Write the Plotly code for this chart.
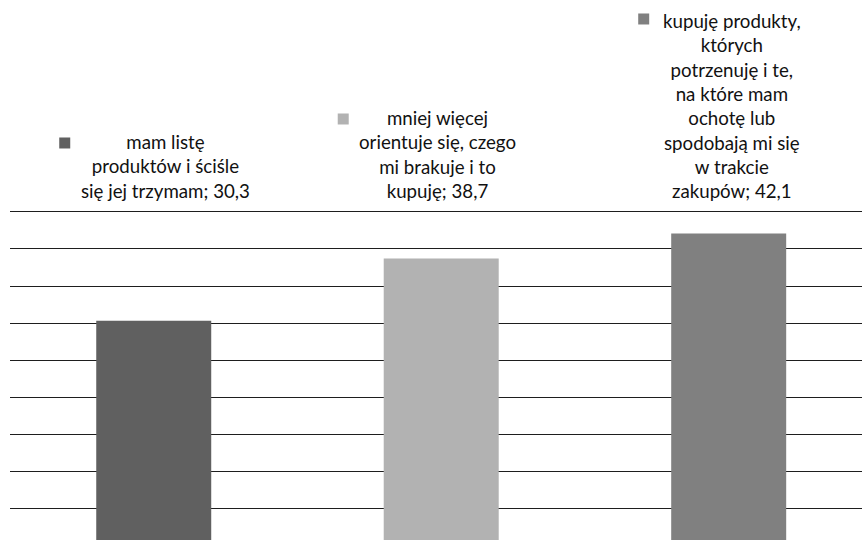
import plotly.graph_objects as go

# Survey answers: how respondents shop (percent)
categories = [
    "mam listę produktów i ściśle się jej trzymam",
    "mniej więcej orientuje się, czego mi brakuje i to kupuję",
    "kupuję produkty, których potrzenuję i te, na które mam ochotę lub spodobają mi się w trakcie zakupów",
]
values = [30.3, 38.7, 42.1]
label_lines = [
    ["mam listę", "produktów i ściśle", "się jej trzymam; 30,3"],
    ["mniej więcej", "orientuje się, czego", "mi brakuje i to", "kupuję; 38,7"],
    ["kupuję produkty,", "których", "potrzenuję i te,", "na które mam",
     "ochotę lub", "spodobają mi się", "w trakcie", "zakupów; 42,1"],
]
colors = ["#606060", "#b2b2b2", "#808080"]

# Label placement (pixel offsets from bar centre / top gridline)
text_dx = [12, -4, 3]
key_dx = [-89, -98, -85]
key_dy = [69, 93, 193]
KEY = 11

FONT = "Lato, 'Open Sans', sans-serif"
y_top = 45
y_range = [0.68, 46.62]

fig = go.Figure()
x_idx = list(range(len(categories)))
fig.add_trace(go.Bar(
    x=x_idx, y=values, marker=dict(color=colors, line=dict(width=0)),
    width=0.4, showlegend=False, hoverinfo="skip",
))

# paper coordinate of the top gridline, so the keys are not clipped
top_paper = (y_top - y_range[0]) / (y_range[1] - y_range[0])

for i, lines in enumerate(label_lines):
    fig.add_annotation(
        x=x_idx[i], y=y_top, xref="x", yref="y",
        text="<br>".join(lines), showarrow=False,
        xanchor="center", yanchor="bottom",
        xshift=text_dx[i], yshift=8,
        font=dict(family=FONT, size=18.7, color="#111111"),
        align="center",
    )
    fig.add_shape(
        type="rect", xref="x", yref="paper",
        xsizemode="pixel", ysizemode="pixel",
        xanchor=x_idx[i], yanchor=top_paper,
        x0=key_dx[i] - KEY / 2, x1=key_dx[i] + KEY / 2,
        y0=key_dy[i] - KEY / 2, y1=key_dy[i] + KEY / 2,
        fillcolor=colors[i], line=dict(width=0),
    )

fig.update_layout(
    width=862, height=540,
    margin=dict(l=10, r=0, t=200, b=0),
    paper_bgcolor="white", plot_bgcolor="white",
    bargap=0.6,
    xaxis=dict(range=[-0.5, 2.4637], showticklabels=False, showgrid=False,
               zeroline=False, showline=False, ticks=""),
    yaxis=dict(range=y_range, tick0=0, dtick=5, showgrid=True,
               gridcolor="#1e1e1e", gridwidth=1.3, zeroline=False,
               showticklabels=False, ticks="", showline=False),
)

fig.write_html("out.html")
